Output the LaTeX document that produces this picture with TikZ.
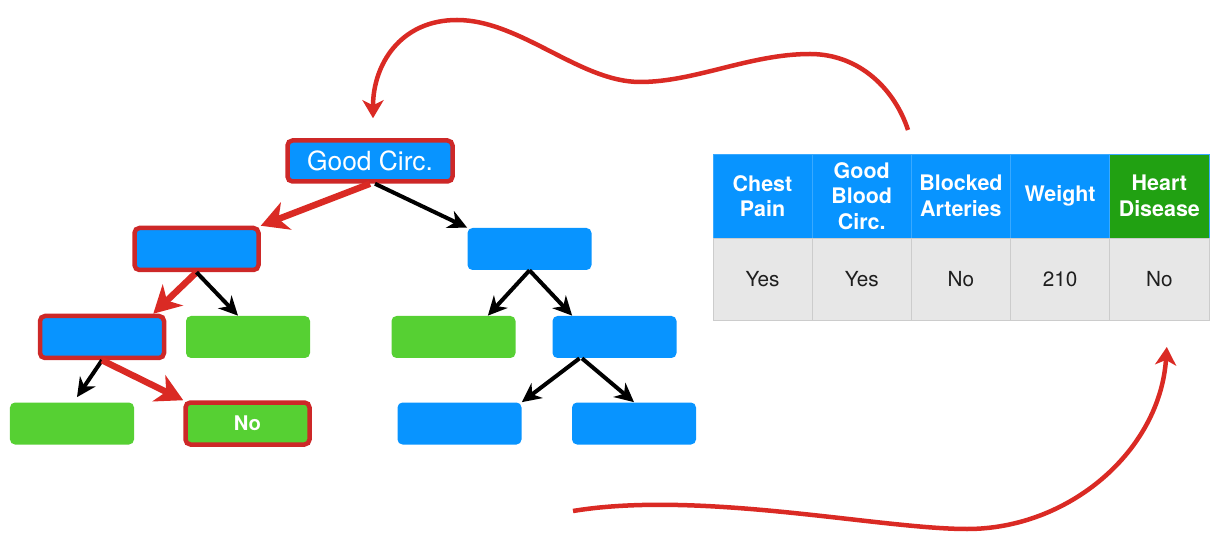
\documentclass[tikz,border=0pt]{standalone}
\usepackage{fontspec}
\setmainfont{TeX Gyre Heros}
\usepackage{tikz}
\usetikzlibrary{shapes,arrows.meta}
\definecolor{hblue}{RGB}{8,148,255}
\definecolor{lgreen}{RGB}{86,208,51}
\definecolor{hgreen}{RGB}{33,161,18}
\definecolor{hred}{RGB}{218,42,36}
\definecolor{bred}{RGB}{205,40,40}
\definecolor{cellgray}{RGB}{231,231,231}
\tikzstyle{block} = [rectangle, fill=hblue, minimum width=2.48cm, 
    minimum height=0.84cm, rounded corners=0.1cm, inner sep=0pt]
\tikzstyle{leaf} = [block, fill=lgreen, text=white,
    font=\bfseries\fontsize{11.5}{13}\selectfont]
\tikzstyle{picked} = [draw=bred, line width=0.09cm]
\tikzstyle{topblock} = [block, picked, minimum width=3.3cm, minimum height=0.82cm,
    text=white, font=\fontsize{15}{17}\selectfont]
\tikzstyle{hcell} = [rectangle, draw=hblue!80!white, line width=0.4pt, text=white,
    minimum width=1.984cm, minimum height=1.68cm, inner sep=0pt, outer sep=0pt,
    align=center, font=\bfseries\fontsize{12.2}{14.6}\selectfont]
\tikzstyle{dcell} = [rectangle, fill=cellgray, draw=gray!40, line width=0.4pt,
    text=black!88, minimum width=1.984cm, minimum height=1.64cm, inner sep=0pt,
    outer sep=0pt, font=\fontsize{11.8}{13}\selectfont]
\tikzstyle{line} = [draw, line width=0.08cm, 
    -{Stealth[length=0.38cm, width=0.37cm, inset=0.12cm]}]
\tikzstyle{hot} = [draw=hred, line width=0.13cm, 
    -{Stealth[length=0.54cm, width=0.58cm, inset=0.16cm]}]
\tikzstyle{flow} = [draw=hred, line width=0.09cm, 
    -{Stealth[length=0.36cm, width=0.42cm, inset=0.1cm]}]

\begin{document}
\begin{tikzpicture}[node distance = 1.76cm, auto]
    \useasboundingbox (0,0) rectangle (24.52,-10.98);
    % Place nodes
    \node [topblock] (root) at (7.4,-3.22) {Good Circ.};
    \node [block, picked, below of=root, xshift=-3.47cm] (l1l) {};
    \node [block, below of=root, xshift=3.19cm] (l1r) {};
    \node [block, picked, below of=l1l, xshift=-1.89cm] (l2a) {};
    \node [leaf, below of=l1l, xshift=1.03cm] (l2b) {};
    \node [leaf, below of=l1r, xshift=-1.52cm] (l2c) {};
    \node [block, below of=l1r, xshift=1.7cm] (l2d) {};
    \node [leaf, below of=l2a, node distance=1.73cm, xshift=-0.6cm] (l3a) {};
    \node [leaf, picked, below of=l2a, node distance=1.73cm, xshift=2.91cm] (l3b) {No};
    \node [block, below of=l2d, node distance=1.73cm, xshift=-3.1cm] (l3c) {};
    \node [block, below of=l2d, node distance=1.73cm, xshift=0.39cm] (l3d) {};
    % Table
    \foreach \i/\col/\head/\val in {1/hblue/{Chest\\Pain}/Yes,
        2/hblue/{Good\\Blood\\Circ.}/Yes, 3/hblue/{Blocked\\Arteries}/No,
        4/hblue/Weight/210, 5/hgreen/{Heart\\Disease}/No} {
        \node [hcell, fill=\col] (h\i) at ({13.266+1.984*\i},-3.92) {\head};
        \node [dcell, below of=h\i, node distance=1.66cm] (d\i) {\val};
    }
    \coordinate (back) at (18.16,-2.6);
    \coordinate (feed) at (11.46,-10.22);
    \path [hot] (root.south) -- (l1l.north east);
    \path [line] ([xshift=0.1cm]root.south) -- (l1r.north west);
    \path [hot] (l1l.south) -- ([xshift=-0.26cm]l2a.north east);
    \path [line] (l1l.south) -- ([xshift=-0.2cm]l2b.north);
    \path [line] (l1r.south) -- ([xshift=-0.56cm]l2c.north east);
    \path [line] (l1r.south) -- ([xshift=0.4cm]l2d.north west);
    \path [line] ([xshift=-0.7cm]l2d.south) -- (l3c.north east);
    \path [line] ([xshift=-0.65cm]l2d.south) -- (l3d.north);
    \path [line] (l2a.south) -- ([xshift=0.1cm, yshift=0.1cm]l3a.north);
    \path [hot] (l2a.south) -- (l3b.north west);
    \path [flow] (back) .. controls (17.9,-1.8) and (17.2,-1.08) .. (16.2,-1.08)
        .. controls (15.0,-1.08) and (13.9,-1.64) .. (12.8,-1.64)
        .. controls (11.6,-1.64) and (10.4,-0.4) .. (9.14,-0.4)
        .. controls (8.0,-0.4) and (7.46,-1.3) .. ([shift={(0.06,0.4)}]root.north);
    \path [flow] (feed) .. controls (14.0,-9.8) and (17.6,-10.58) .. (19.34,-10.58)
        .. controls (21.4,-10.58) and (23.2,-9.0) .. ([shift={(0.15,-0.54)}]d5.south);
\end{tikzpicture}
\end{document}
